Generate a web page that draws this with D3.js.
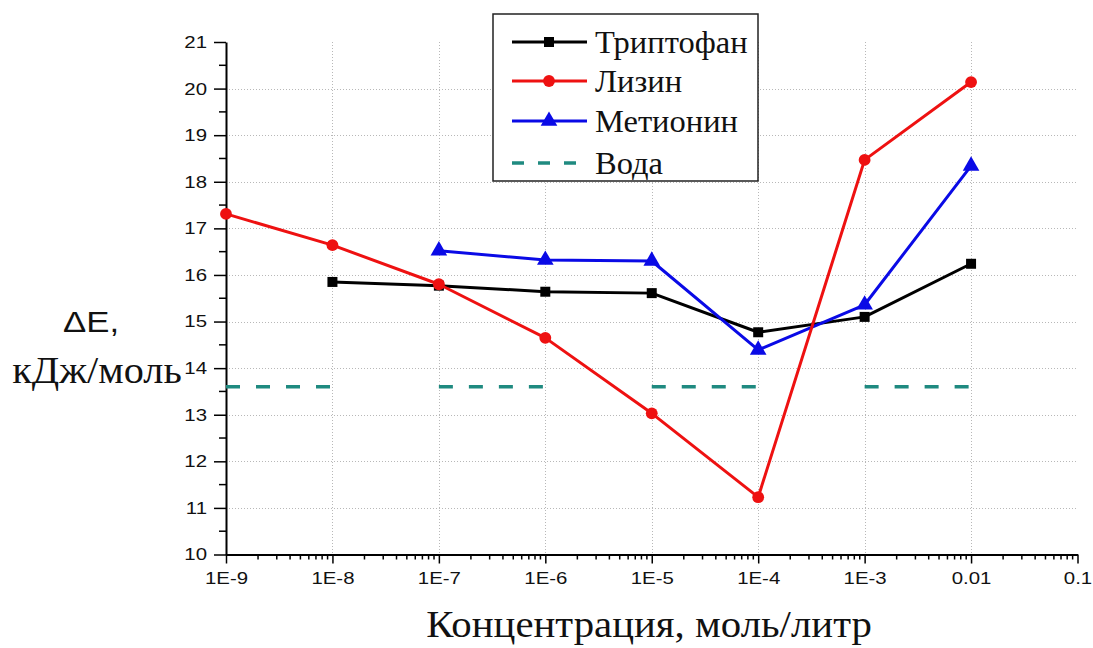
<!DOCTYPE html>
<html>
<head>
<meta charset="utf-8">
<script src="https://cdn.jsdelivr.net/npm/d3@7"></script>
<style>
  html, body { margin: 0; padding: 0; background: #fff; }
  svg { display: block; }
</style>
</head>
<body>
<svg id="chart" width="1093" height="648"></svg>
<script>
// Concentrations (mol/L) at which each amino acid was measured
const concTrp = [1e-8, 1e-7, 1e-6, 1e-5, 1e-4, 1e-3, 1e-2];
const valTrp  = [15.85, 15.77, 15.64, 15.61, 14.77, 15.10, 16.24];

const concLys = [1e-9, 1e-8, 1e-7, 1e-6, 1e-5, 1e-4, 1e-3, 1e-2];
const valLys  = [17.31, 16.64, 15.80, 14.65, 13.03, 11.23, 18.47, 20.14];

const concMet = [1e-7, 1e-6, 1e-5, 1e-4, 1e-3, 1e-2];
const valMet  = [16.52, 16.32, 16.30, 14.39, 15.36, 18.34];

// Water reference level, drawn as separate spans
const waterSpans = [[1e-9, 1e-8], [1e-7, 1e-6], [1e-5, 1e-4], [1e-3, 1e-2]];
const waterLevel = 13.6;

// Axis ticks
const xTicks = [1e-9, 1e-8, 1e-7, 1e-6, 1e-5, 1e-4, 1e-3, 1e-2, 1e-1];
const xTickLabels = ["1E-9", "1E-8", "1E-7", "1E-6", "1E-5", "1E-4", "1E-3", "0.01", "0.1"];
const yTicks = [10, 11, 12, 13, 14, 15, 16, 17, 18, 19, 20, 21];

const legendNames = ["Триптофан", "Лизин", "Метионин", "Вода"];

const SERIF = '"Liberation Serif", "Times New Roman", serif';
const SANS = '"Liberation Sans", Arial, sans-serif';

const svg = d3.select("#chart");
const x = d3.scaleLog().domain([1e-9, 1e-1]).range([226, 1077.5]);
const y = d3.scaleLinear().domain([10, 21]).range([554.5, 42]);

// sans-serif text in this figure is set slightly wide
const sansStretch = 1.2;

// Grid
const grid = svg.append("g").attr("stroke", "#b8b8b8").attr("stroke-width", 1)
  .attr("stroke-dasharray", "1,2");
grid.selectAll("line.h").data(yTicks.filter(v => v > 10 && v < 21)).join("line")
  .attr("x1", x.range()[0]).attr("x2", x.range()[1])
  .attr("y1", d => Math.round(y(d)) + 0.5).attr("y2", d => Math.round(y(d)) + 0.5);
grid.selectAll("line.v").data(xTicks.slice(1, -1)).join("line")
  .attr("x1", d => Math.round(x(d)) + 0.5).attr("x2", d => Math.round(x(d)) + 0.5)
  .attr("y1", y.range()[1]).attr("y2", y.range()[0]);

// Y axis
const yAxis = svg.append("g").attr("transform", `translate(${x.range()[0]},0)`)
  .call(d3.axisLeft(y).tickValues(yTicks).tickFormat(d3.format("d")).tickSize(12).tickPadding(6).tickSizeOuter(0));
yAxis.select(".domain").attr("stroke-width", 2);
yAxis.selectAll(".tick line").attr("stroke-width", 1.5);
yAxis.selectAll(".tick text")
  .style("font-family", SANS).style("font-size", "17px").attr("fill", "#111")
  .attr("transform", `scale(${sansStretch},1)`).attr("x", -19 / sansStretch);
// half-unit minor ticks
yAxis.selectAll("line.minor").data(d3.range(10.5, 21, 1)).join("line")
  .attr("stroke", "#000").attr("stroke-width", 1.5)
  .attr("x1", -7).attr("x2", 0).attr("y1", d => y(d)).attr("y2", d => y(d));

// X axis
const xAxis = svg.append("g").attr("transform", `translate(0,${y.range()[0]})`)
  .call(d3.axisBottom(x).tickValues(xTicks).tickFormat((d, i) => xTickLabels[i]).tickSize(9).tickPadding(8).tickSizeOuter(0));
xAxis.select(".domain").attr("stroke-width", 2);
xAxis.selectAll(".tick line").attr("stroke-width", 1.5);
xAxis.selectAll(".tick text")
  .style("font-family", SANS).style("font-size", "17px").attr("fill", "#111")
  .attr("transform", `scale(${sansStretch},1)`);
const minorX = [];
for (let e = -9; e < -1; e++) for (let k = 2; k <= 9; k++) minorX.push(k * Math.pow(10, e));
xAxis.selectAll("line.minor").data(minorX).join("line")
  .attr("stroke", "#000").attr("stroke-width", 1.5)
  .attr("x1", d => x(d)).attr("x2", d => x(d)).attr("y1", 0).attr("y2", 5);

// Water reference
const line = d3.line().x(d => x(d[0])).y(d => y(d[1]));
const waterColor = "#1f8a80";
svg.append("g").selectAll("path").data(waterSpans).join("path")
  .attr("d", s => line(s.map(c => [c, waterLevel])))
  .attr("fill", "none").attr("stroke", waterColor).attr("stroke-width", 3.5)
  .attr("stroke-dasharray", "14,16");

// Series
const series = [
  { conc: concTrp, vals: valTrp, color: "#000000", marker: "square" },
  { conc: concMet, vals: valMet, color: "#0a0ae6", marker: "triangle" },
  { conc: concLys, vals: valLys, color: "#ee1111", marker: "circle" }
];
const markerPath = {
  square: d3.symbol(d3.symbolSquare, 100),
  circle: d3.symbol(d3.symbolCircle, 110),
  triangle: d3.symbol(d3.symbolTriangle, 120)
};
series.forEach(s => {
  const pts = s.conc.map((c, i) => [c, s.vals[i]]);
  svg.append("path").attr("d", line(pts)).attr("fill", "none")
    .attr("stroke", s.color).attr("stroke-width", 3).attr("stroke-linejoin", "round");
  svg.append("g").selectAll("path").data(pts).join("path")
    .attr("transform", d => `translate(${x(d[0])},${y(d[1])})`)
    .attr("d", markerPath[s.marker]()).attr("fill", s.color);
});

// Legend
const legend = svg.append("g").attr("transform", "translate(493,14)");
legend.append("rect").attr("width", 265).attr("height", 167)
  .attr("fill", "#fff").attr("stroke", "#222").attr("stroke-width", 1.5);
const legendItems = [
  { color: "#000000", marker: "square" },
  { color: "#ee1111", marker: "circle" },
  { color: "#0a0ae6", marker: "triangle" },
  { color: waterColor, marker: null }
];
const rowY = [28, 67, 107, 149];
legendItems.forEach((it, i) => {
  const g = legend.append("g").attr("transform", `translate(0,${rowY[i]})`);
  if (it.marker) {
    g.append("line").attr("x1", 19).attr("x2", 94).attr("stroke", it.color).attr("stroke-width", 3);
    g.append("path").attr("transform", "translate(56,0)").attr("d", markerPath[it.marker]()).attr("fill", it.color);
  } else {
    g.append("line").attr("x1", 19).attr("x2", 94).attr("stroke", it.color).attr("stroke-width", 3.5)
      .attr("stroke-dasharray", "12,14");
  }
  g.append("text").attr("x", 102).attr("y", 11)
    .style("font-family", SERIF).style("font-size", "32.5px")
    .attr("fill", "#111").text(legendNames[i]);
});

// Axis titles
svg.append("text").attr("text-anchor", "middle")
  .attr("transform", "translate(649,637) scale(1.06,1)")
  .style("font-family", SERIF).style("font-size", "38.5px")
  .attr("fill", "#111").text("Концентрация, моль/литр");

svg.append("text").attr("text-anchor", "middle")
  .attr("transform", `translate(91,332) scale(${sansStretch},1)`)
  .style("font-family", SANS).style("font-size", "29px").attr("fill", "#111")
  .text("\u0394E,");
svg.append("text").attr("text-anchor", "middle")
  .attr("transform", "translate(97,383) scale(1.06,1)")
  .style("font-family", SERIF).style("font-size", "38px").attr("fill", "#111")
  .text("кДж/моль");
</script>
</body>
</html>
